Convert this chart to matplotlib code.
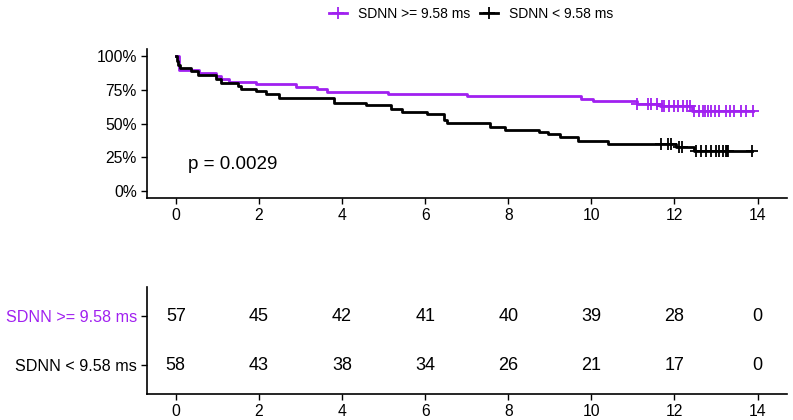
"""
Kaplan-Meier curves by SDNN group with a number-at-risk table
"""

import matplotlib
matplotlib.use('Agg')  # Non-interactive backend
import matplotlib.pyplot as plt
from matplotlib.lines import Line2D

plt.rcParams['font.family'] = ['Liberation Sans', 'DejaVu Sans']

PURPLE = '#A020F0'
groups = ['SDNN >= 9.58 ms', 'SDNN < 9.58 ms']
p_label = 'p = 0.0029'

# Step curves (time in years, survival fraction)
hi_time = [0, 0.08, 0.57, 0.97, 1.09, 1.29, 1.93, 2.89, 3.41, 3.65, 5.10,
           7.01, 9.76, 10.04, 11.10, 11.65, 12.42, 13.90]
hi_surv = [1.0, 0.898, 0.878, 0.854, 0.83, 0.81, 0.793, 0.772, 0.756, 0.737,
           0.72, 0.705, 0.684, 0.667, 0.647, 0.628, 0.595, 0.595]

lo_time = [0, 0.02, 0.05, 0.09, 0.37, 0.53, 0.97, 1.09, 1.49, 1.57, 1.93,
           2.17, 2.49, 3.81, 4.57, 5.17, 5.45, 6.05, 6.45, 6.53, 7.55, 7.93,
           8.75, 8.96, 9.24, 9.68, 10.40, 12.04, 12.48, 13.87]
lo_surv = [1.0, 0.966, 0.931, 0.914, 0.893, 0.857, 0.828, 0.802, 0.781,
           0.759, 0.741, 0.722, 0.69, 0.655, 0.638, 0.605, 0.586, 0.572,
           0.53, 0.505, 0.476, 0.451, 0.434, 0.421, 0.398, 0.37, 0.347,
           0.33, 0.30, 0.30]

# Censor marks
hi_cens_t = [11.10, 11.36, 11.44, 11.58, 11.70, 11.76, 11.87, 12.00, 12.08,
             12.20, 12.30, 12.38, 12.48, 12.60, 12.68, 12.74, 12.81, 12.88,
             12.98, 13.08, 13.25, 13.33, 13.44, 13.60, 13.73, 13.90]
hi_cens_s = [0.647, 0.647, 0.647, 0.647, 0.628, 0.628, 0.628, 0.628, 0.628,
             0.628, 0.628, 0.628, 0.595, 0.595, 0.595, 0.595, 0.595, 0.595,
             0.595, 0.595, 0.595, 0.595, 0.595, 0.595, 0.595, 0.595]
lo_cens_t = [11.68, 11.84, 11.92, 12.11, 12.19, 12.52, 12.64, 12.76, 12.88,
             12.99, 13.07, 13.18, 13.23, 13.26, 13.29, 13.87]
lo_cens_s = [0.347, 0.347, 0.347, 0.33, 0.33, 0.30, 0.30, 0.30, 0.30,
             0.30, 0.30, 0.30, 0.30, 0.30, 0.30, 0.30]

# Number at risk
risk_times = [0, 2, 4, 6, 8, 10, 12, 14]
hi_risk = [57, 45, 42, 41, 40, 39, 28, 0]
lo_risk = [58, 43, 38, 34, 26, 21, 17, 0]

x_ticks = [0, 2, 4, 6, 8, 10, 12, 14]
y_ticks = [0, 0.25, 0.5, 0.75, 1.0]
y_tick_labels = ['0%', '25%', '50%', '75%', '100%']


def style_axis(ax):
    for side in ['top', 'right']:
        ax.spines[side].set_visible(False)
    for side in ['left', 'bottom']:
        ax.spines[side].set_linewidth(1.2)
    ax.tick_params(axis='both', length=4, width=1.0, labelsize=11.3,
                   colors='black', pad=3)
    ax.set_xlim(-0.7, 14.7)
    ax.set_xticks(x_ticks)


fig = plt.figure(figsize=(7.93, 4.2), dpi=100)

# Survival curves
ax = fig.add_axes([0.185, 0.529, 0.807, 0.3535])
style_axis(ax)
ax.step(hi_time, hi_surv, where='post', color=PURPLE, lw=2.0)
ax.step(lo_time, lo_surv, where='post', color='black', lw=2.0)
ax.plot(hi_cens_t, hi_cens_s, ls='none', marker='+', ms=8.5, mew=1.3,
        color=PURPLE)
ax.plot(lo_cens_t, lo_cens_s, ls='none', marker='+', ms=8.5, mew=1.3,
        color='black')
ax.set_ylim(-0.05, 1.05)
ax.set_yticks(y_ticks)
ax.set_yticklabels(y_tick_labels)
ax.text(0.3, 0.2, p_label, fontsize=13.5, ha='left', va='center')

handles = [
    Line2D([], [], color=PURPLE, lw=2.0, marker='+', ms=8.5, mew=1.3),
    Line2D([], [], color='black', lw=2.0, marker='+', ms=8.5, mew=1.3),
]
fig.legend(handles, groups, loc='center', bbox_to_anchor=(471 / 793, 1 - 14 / 420),
           ncol=2, frameon=False, fontsize=10, handlelength=1.3,
           handletextpad=0.75, columnspacing=0.75)

# Risk table
tab = fig.add_axes([0.185, 0.061, 0.807, 0.255])
style_axis(tab)
tab.set_ylim(0.4, 2.6)
tab.set_yticks([2, 1])
tab.set_yticklabels(groups, fontsize=11.6)
tab.get_yticklabels()[0].set_color(PURPLE)
for t, n_hi, n_lo in zip(risk_times, hi_risk, lo_risk):
    tab.text(t, 2, str(n_hi), fontsize=13, ha='center', va='center')
    tab.text(t, 1, str(n_lo), fontsize=13, ha='center', va='center')

fig.savefig('out.png', dpi=100)
